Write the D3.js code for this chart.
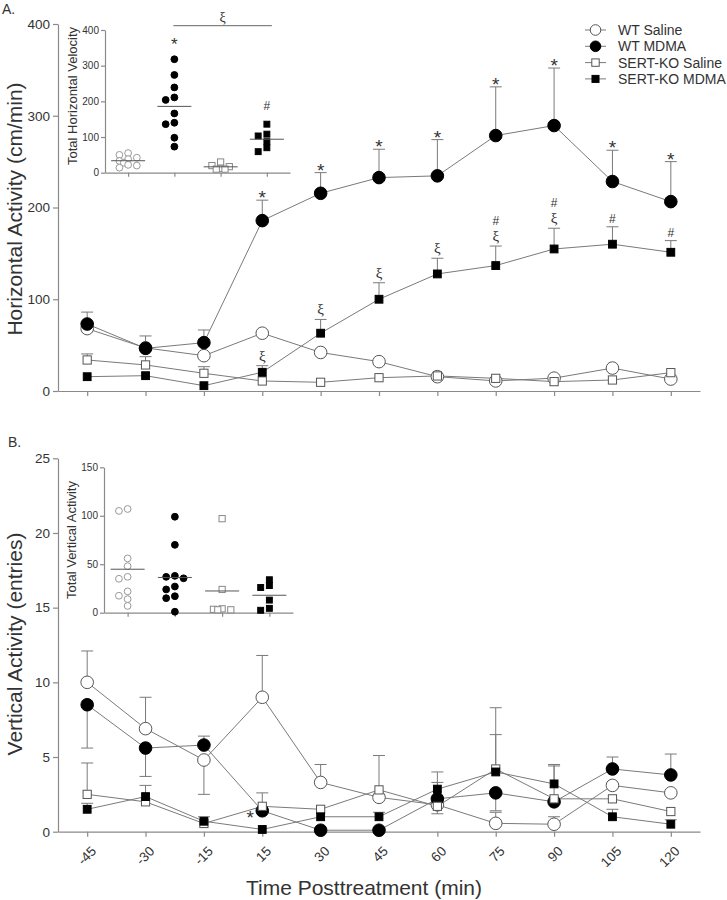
<!DOCTYPE html>
<html>
<head>
<meta charset="utf-8">
<script src="https://cdn.jsdelivr.net/npm/d3@7"></script>
<style>
  body { margin: 0; background: #fff; }
  text { font-family: "Liberation Sans", Arial, sans-serif; fill: #333; }
</style>
</head>
<body>
<div id="chart"></div>
<script>
// Time points and groups
var timePoints = [-45, -30, -15, 15, 30, 45, 60, 75, 90, 105, 120];
var groupNames = ["WT Saline", "WT MDMA", "SERT-KO Saline", "SERT-KO MDMA"];

// Panel A: horizontal activity (cm/min), error bar end values
var horizWtSaline = [68, 47, 38.5, 63, 42, 32, 15.6, 11, 14, 25, 13];
var horizWtMdma = [73, 46.5, 52.7, 185.7, 215.5, 232.6, 234.5, 278.4, 289.3, 228.3, 206.4];
var horizWtMdmaErr = [86, 60, 66.5, 208, 238, 263.5, 274, 331.5, 352, 262.4, 250];
var horizKoSaline = [33.8, 28.4, 19.3, 10.9, 9.5, 14.5, 16.4, 13.8, 10.2, 12, 20];
var horizKoSalineErr = [40.4, 37.4, 26.5, null, null, null, null, null, null, null, null];
var horizKoMdma = [15.6, 16.7, 5.8, 20.4, 63, 100, 127.6, 136.7, 154.8, 160, 151.2];
var horizKoMdmaErr = [null, null, null, 27.6, 78, 118, 144.7, 158, 177.4, 179, 163.9];

// Panel A significance marks
var starWtMdmaA = [0, 0, 0, 1, 1, 1, 1, 1, 1, 1, 1];
var xiKoMdmaA = [0, 0, 0, 1, 1, 1, 1, 1, 1, 0, 0];
var hashKoMdmaA = [0, 0, 0, 0, 0, 0, 0, 1, 1, 1, 1];

// Panel B: vertical activity (entries), error bar end values
var vertWtSaline = [10.0, 6.9, 4.8, 9.0, 3.3, 2.3, 1.8, 0.56, 0.5, 3.1, 2.6];
var vertWtSalineErr = [12.1, 9.0, 2.5, 11.8, 4.5, null, null, 1.3, 1.0, null, null];
var vertWtMdma = [8.5, 5.6, 5.8, 1.4, 0.1, 0.1, 2.2, 2.6, 2.0, 4.2, 3.8];
var vertWtMdmaErr = [5.6, 3.7, 6.4, null, null, null, 3.3, 1.4, 4.4, 5.0, 5.2];
var vertKoSaline = [2.5, 2.0, 0.55, 1.7, 1.5, 2.8, 1.7, 4.2, 2.2, 2.2, 1.35];
var vertKoSalineErr = [4.6, null, null, 2.6, null, 5.1, 1.2, 8.3, null, null, null];
var vertKoMdma = [1.5, 2.35, 0.7, 0.15, 1.0, 1.0, 2.85, 4.0, 3.2, 1.0, 0.5];
var vertKoMdmaErr = [1.9, 3.1, 1.0, null, null, 1.3, 4.0, 6.5, 4.5, 1.5, 0.8];

// Insets: per-animal totals
var totalHorizWtSaline = [55, 50, 42, 38, 33, 28, 22, 20, 14];
var totalHorizWtMdma = [318, 274, 239, 211, 204, 166, 140, 136, 98, 73];
var totalHorizKoSaline = [30, 20, 17, 12, 10, 10];
var totalHorizKoMdma = [136, 108, 103, 87, 70, 59];
var totalVertWtSaline = [107, 105, 56, 48, 37, 35, 22, 17.5, 14, 7];
var totalVertWtMdma = [99, 70, 38, 37, 35.5, 27, 24, 17, 15, 1];
var totalVertKoSaline = [97, 24, 4, 3.5, 3, 3];
var totalVertKoMdma = [34, 28, 26, 13, 4.5, 2.5];

var svgWidth = 727;
var svgHeight = 900;

var svg = d3.select("#chart")
  .append("svg")
  .attr("width", svgWidth)
  .attr("height", svgHeight);

// table of series built from the arrays above
var series = [
  { name: groupNames[0], shape: "circle", filled: false, a: horizWtSaline, aErr: null, b: vertWtSaline, bErr: vertWtSalineErr, tA: totalHorizWtSaline, tB: totalVertWtSaline },
  { name: groupNames[1], shape: "circle", filled: true, a: horizWtMdma, aErr: horizWtMdmaErr, b: vertWtMdma, bErr: vertWtMdmaErr, tA: totalHorizWtMdma, tB: totalVertWtMdma },
  { name: groupNames[2], shape: "square", filled: false, a: horizKoSaline, aErr: horizKoSalineErr, b: vertKoSaline, bErr: vertKoSalineErr, tA: totalHorizKoSaline, tB: totalVertKoSaline },
  { name: groupNames[3], shape: "square", filled: true, a: horizKoMdma, aErr: horizKoMdmaErr, b: vertKoMdma, bErr: vertKoMdmaErr, tA: totalHorizKoMdma, tB: totalVertKoMdma }
];

var lineColor = "#7a7a7a";
var axisColor = "#8a8a8a";

function marker(g, cx, cy, s, size, strokeCol) {
  if (s.shape === "circle") {
    g.append("circle")
      .attr("cx", cx).attr("cy", cy).attr("r", size)
      .attr("fill", s.filled ? "#000" : "#fff")
      .attr("stroke", s.filled ? "#000" : strokeCol)
      .attr("stroke-width", 1);
  } else {
    var h = s.filled ? size * 0.95 : size;
    g.append("rect")
      .attr("x", cx - h).attr("y", cy - h)
      .attr("width", h * 2).attr("height", h * 2)
      .attr("fill", s.filled ? "#000" : "#fff")
      .attr("stroke", s.filled ? "#000" : strokeCol)
      .attr("stroke-width", 1);
  }
}

function styleAxis(g, fontSize) {
  g.select(".domain").attr("stroke", axisColor).attr("stroke-width", 1.2);
  g.selectAll(".tick line").attr("stroke", axisColor).attr("stroke-width", 1.2);
  g.selectAll(".tick text").style("font-size", fontSize + "px").attr("fill", "#333");
}

// Main panel with time course
function drawPanel(yScale, key, errKey, ticks, showXLabels) {
  var x = d3.scalePoint().domain(timePoints).range([58, 700]).padding(0.5);
  var g = svg.append("g");

  var yAxis = g.append("g")
    .attr("transform", "translate(58,0)")
    .call(d3.axisLeft(yScale).tickValues(ticks).tickSize(5).tickSizeOuter(0).tickPadding(3));
  styleAxis(yAxis, 13.5);

  var xAxis = g.append("g")
    .attr("transform", `translate(0, ${yScale(0)})`)
    .call(d3.axisBottom(x).tickSize(5).tickSizeOuter(0).tickFormat(""));
  styleAxis(xAxis, 13);

  if (showXLabels) {
    xAxis.selectAll(".tick")
      .append("text")
      .attr("transform", "translate(6,17) rotate(-45)")
      .attr("text-anchor", "end")
      .attr("dy", "0.35em")
      .style("font-size", "13.5px")
      .attr("fill", "#333")
      .text(d => d);
  }

  var line = d3.line()
    .x((d, i) => x(timePoints[i]))
    .y(d => yScale(d));

  series.forEach(function(s) {
    g.append("path")
      .datum(s[key])
      .attr("d", line)
      .attr("fill", "none")
      .attr("stroke", lineColor)
      .attr("stroke-width", 1);
  });

  series.forEach(function(s) {
    if (!s[errKey]) return;
    s[errKey].forEach(function(e, i) {
      if (e === null) return;
      var cx = x(timePoints[i]);
      g.append("line")
        .attr("x1", cx).attr("x2", cx)
        .attr("y1", yScale(s[key][i])).attr("y2", yScale(e))
        .attr("stroke", lineColor).attr("stroke-width", 1);
      g.append("line")
        .attr("x1", cx - 6).attr("x2", cx + 6)
        .attr("y1", yScale(e)).attr("y2", yScale(e))
        .attr("stroke", lineColor).attr("stroke-width", 1);
    });
  });

  series.forEach(function(s) {
    s[key].forEach(function(v, i) {
      marker(g, x(timePoints[i]), yScale(v), s, s.shape === "circle" ? 6.3 : 4.1, "#555");
    });
  });

  return { g: g, x: x };
}

// ---------- Panel A ----------
var yA = d3.scaleLinear().domain([0, 400]).range([391, 24]);
var pA = drawPanel(yA, "a", "aErr", [0, 100, 200, 300, 400], false);

// significance marks
timePoints.forEach(function(t, i) {
  var cx = pA.x(t);
  if (starWtMdmaA[i]) {
    pA.g.append("text")
      .attr("x", cx).attr("y", yA(horizWtMdmaErr[i]) + 4)
      .attr("text-anchor", "middle")
      .style("font-size", "19px")
      .attr("fill", "#444")
      .text("*");
  }
  var top = yA(horizKoMdmaErr[i] !== null ? horizKoMdmaErr[i] : horizKoMdma[i]);
  if (xiKoMdmaA[i]) {
    pA.g.append("text")
      .attr("x", cx).attr("y", top - 5)
      .attr("text-anchor", "middle")
      .style("font-size", "15px")
      .style("font-family", "'Liberation Serif', serif")
      .attr("fill", "#555")
      .text("ξ");
    top = top - 17;
  }
  if (hashKoMdmaA[i]) {
    pA.g.append("text")
      .attr("x", cx).attr("y", top - 4)
      .attr("text-anchor", "middle")
      .style("font-size", "12px")
      .attr("fill", "#444")
      .text("#");
  }
});

svg.append("text")
  .attr("x", 2).attr("y", 14)
  .style("font-size", "14px")
  .text("A.");

svg.append("text")
  .attr("transform", "translate(22,209) rotate(-90)")
  .attr("text-anchor", "middle")
  .style("font-size", "21px")
  .attr("fill", "#222")
  .text("Horizontal Activity (cm/min)");

// legend
var legend = svg.append("g");
series.forEach(function(s, i) {
  var ly = 30 + i * 16.3;
  legend.append("line")
    .attr("x1", 585).attr("x2", 606)
    .attr("y1", ly).attr("y2", ly)
    .attr("stroke", lineColor).attr("stroke-width", 1);
  marker(legend, 595.5, ly, s, s.shape === "circle" ? 5.3 : 3.7, "#555");
  legend.append("text")
    .attr("x", 618).attr("y", ly)
    .attr("dy", "0.36em")
    .style("font-size", "14px")
    .attr("fill", "#333")
    .text(s.name);
});

// ---------- Panel B ----------
var yB = d3.scaleLinear().domain([0, 25]).range([831.7, 458.3]);
var pB = drawPanel(yB, "b", "bErr", [0, 5, 10, 15, 20, 25], true);

pB.g.append("text")
  .attr("x", pB.x(15) - 12).attr("y", yB(vertWtMdma[3]) + 13)
  .attr("text-anchor", "middle")
  .style("font-size", "19px")
  .attr("fill", "#444")
  .text("*");

svg.append("text")
  .attr("x", 8).attr("y", 447)
  .style("font-size", "14px")
  .text("B.");

svg.append("text")
  .attr("transform", "translate(22,644) rotate(-90)")
  .attr("text-anchor", "middle")
  .style("font-size", "21px")
  .attr("fill", "#222")
  .text("Vertical Activity (entries)");

svg.append("text")
  .attr("x", 364).attr("y", 895)
  .attr("text-anchor", "middle")
  .style("font-size", "21px")
  .attr("fill", "#222")
  .text("Time Posttreatment (min)");

// ---------- Insets ----------
// simple column swarm: spread points that sit too close vertically
function swarm(vals, y, step, minDy) {
  var placed = [];
  var offs = [0, -1, 1, -0.5, 0.5, -1.5, 1.5];
  return vals.map(function(v) {
    var py = y(v);
    for (var i = 0; i < offs.length; i++) {
      var col = offs[i];
      var free = placed.every(p => p.col !== col || Math.abs(p.y - py) >= minDy);
      if (free) {
        placed.push({ col: col, y: py });
        return { v: v, dx: col * step, y: py };
      }
    }
    return { v: v, dx: 0, y: py };
  });
}

function drawInset(x0, x1, yScale, ticks, key, title, titleY) {
  var x = d3.scalePoint().domain(groupNames).range([x0, x1]).padding(0.5);
  var g = svg.append("g");

  var ya = g.append("g")
    .attr("transform", `translate(${x0},0)`)
    .call(d3.axisLeft(yScale).tickValues(ticks).tickSize(4).tickSizeOuter(0).tickPadding(2));
  styleAxis(ya, 10);

  var xa = g.append("g")
    .attr("transform", `translate(0, ${yScale(0)})`)
    .call(d3.axisBottom(x).tickSize(4).tickSizeOuter(0).tickFormat(""));
  styleAxis(xa, 10);

  g.append("text")
    .attr("transform", `translate(${x0 - 28},${titleY}) rotate(-90)`)
    .attr("text-anchor", "middle")
    .style("font-size", "13px")
    .attr("fill", "#333")
    .text(title);

  series.forEach(function(s) {
    var cx = x(s.name);
    swarm(s[key], yScale, 8.7, 5.5).forEach(function(p) {
      marker(g, cx + p.dx, p.y, s, s.shape === "circle" ? 3.4 : 3.1, s.shape === "circle" ? "#999" : "#888");
    });
    var m = d3.mean(s[key]);
    g.append("line")
      .attr("x1", cx - 17).attr("x2", cx + 17)
      .attr("y1", yScale(m)).attr("y2", yScale(m))
      .attr("stroke", "#555").attr("stroke-width", 1);
  });

  return { g: g, x: x };
}

var yIA = d3.scaleLinear().domain([0, 400]).range([172.7, 30]);
var iA = drawInset(105, 290, yIA, [0, 100, 200, 300, 400], "tA", "Total Horizontal Velocity", 96);

iA.g.append("text")
  .attr("x", iA.x(groupNames[1])).attr("y", yIA(d3.max(totalHorizWtMdma)) - 9)
  .attr("text-anchor", "middle")
  .style("font-size", "17px")
  .attr("fill", "#444")
  .text("*");
iA.g.append("text")
  .attr("x", iA.x(groupNames[3])).attr("y", yIA(d3.max(totalHorizKoMdma)) - 14)
  .attr("text-anchor", "middle")
  .style("font-size", "12px")
  .attr("fill", "#444")
  .text("#");
iA.g.append("line")
  .attr("x1", iA.x(groupNames[1]) - 1).attr("x2", iA.x(groupNames[3]) + 5)
  .attr("y1", 25.7).attr("y2", 25.7)
  .attr("stroke", "#666").attr("stroke-width", 1);
iA.g.append("text")
  .attr("x", (iA.x(groupNames[1]) + iA.x(groupNames[3])) / 2 + 2).attr("y", 22)
  .attr("text-anchor", "middle")
  .style("font-size", "14px")
  .style("font-family", "'Liberation Serif', serif")
  .attr("fill", "#555")
  .text("ξ");

var yIB = d3.scaleLinear().domain([0, 150]).range([612.7, 467.3]);
drawInset(104, 293, yIB, [0, 50, 100, 150], "tB", "Total Vertical Activity", 540);
</script>
</body>
</html>
